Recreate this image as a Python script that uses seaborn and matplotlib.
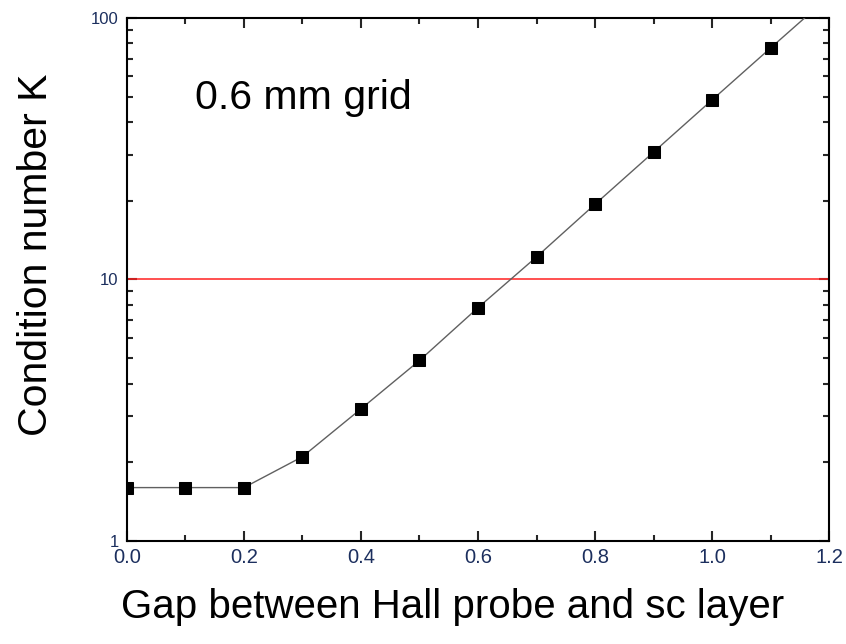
import matplotlib
matplotlib.use("Agg")
import matplotlib.pyplot as plt
from matplotlib.ticker import LogLocator, MultipleLocator, FixedFormatter, FixedLocator, NullFormatter
import pandas as pd
import seaborn as sns

# gap (mm) and condition number K
gap = [0.0, 0.1, 0.2, 0.3, 0.4, 0.5, 0.6, 0.7, 0.8, 0.9, 1.0, 1.1, 1.2]
cond_k = [1.6, 1.6, 1.6, 2.1, 3.2, 4.9, 7.8, 12.2, 19.4, 30.7, 48.6, 76.8, 121.0]
threshold = 10
label_text = "0.6 mm grid"

sns.set_style("ticks")
plt.rcParams['font.family'] = ['Liberation Sans', 'DejaVu Sans']
plt.rcParams['text.color'] = 'black'
plt.rcParams['axes.labelcolor'] = 'black'

df = pd.DataFrame({"gap": gap, "K": cond_k})

fig = plt.figure(figsize=(8.46, 6.44), dpi=100)
ax = fig.add_axes([0.150, 0.160, 0.830, 0.812])
ax.set_yscale('log')

ax.axhline(threshold, color='#ff2020', lw=1.1, zorder=1)
sns.lineplot(data=df, x="gap", y="K", ax=ax, color='#606060', lw=1.0,
             marker='s', markersize=8, markerfacecolor='black',
             markeredgecolor='black', zorder=3)

ax.set_xlim(0, 1.2)
ax.set_ylim(1, 100)

ax.xaxis.set_major_locator(MultipleLocator(0.2))
ax.xaxis.set_minor_locator(MultipleLocator(0.1))
ax.xaxis.set_major_formatter(plt.FormatStrFormatter('%.1f'))
ax.yaxis.set_major_locator(FixedLocator([1, 10, 100]))
ax.yaxis.set_major_formatter(FixedFormatter(['1', '10', '100']))
ax.yaxis.set_minor_locator(LogLocator(base=10, subs=range(2, 10)))
ax.yaxis.set_minor_formatter(NullFormatter())

for s in ax.spines.values():
    s.set_linewidth(1.5)
    s.set_color('black')
ax.tick_params(which='both', direction='in', top=True, right=True,
               width=1.5, labelcolor='#1c2f5e')
ax.tick_params(which='major', length=7)
ax.tick_params(which='minor', length=4.5)
ax.tick_params(axis='x', labelsize=14.5, pad=5)
ax.tick_params(axis='y', labelsize=12, pad=6)

ax.set_xlabel("Gap between Hall probe and sc layer", fontsize=29)
ax.set_ylabel("Condition number K", fontsize=29.5)
ax.xaxis.set_label_coords(0.464, -0.090)
ax.yaxis.set_label_coords(-0.103, 0.547)
ax.text(0.116, 49.4, label_text, fontsize=29.5, va='center', ha='left')

fig.savefig("out.png", dpi=100)
